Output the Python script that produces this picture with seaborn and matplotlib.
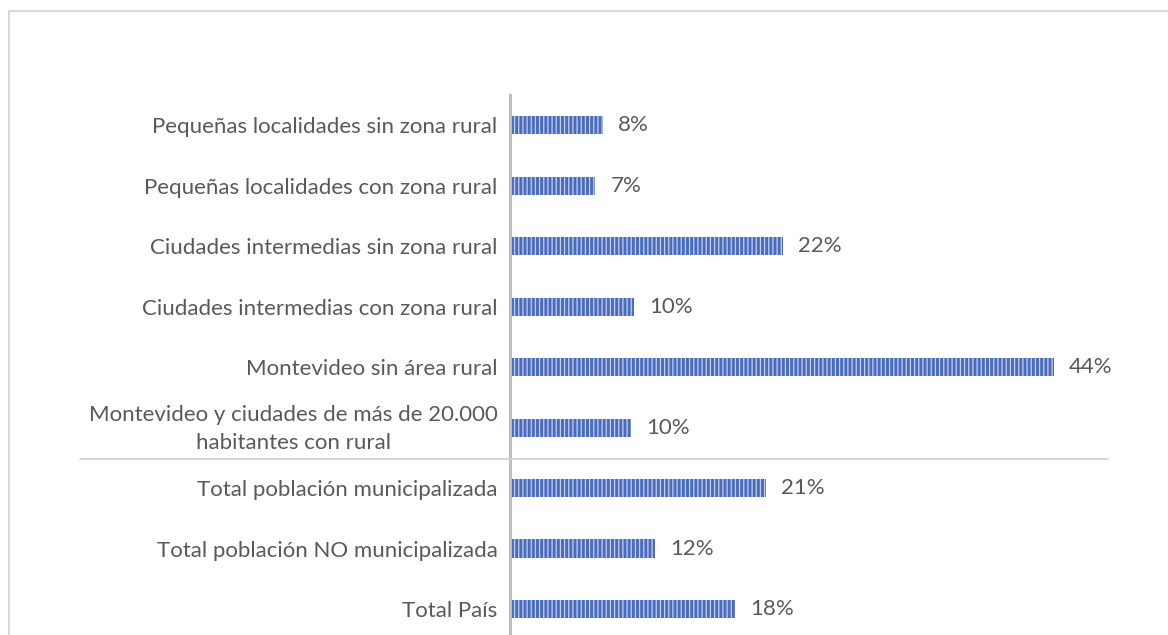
import pandas as pd
import seaborn as sns
import matplotlib.pyplot as plt
import matplotlib.transforms as mtransforms
from matplotlib.patches import Rectangle
from matplotlib.lines import Line2D

categories = [
    "Pequeñas localidades sin zona rural",
    "Pequeñas localidades con zona rural",
    "Ciudades intermedias sin zona rural",
    "Ciudades intermedias con zona rural",
    "Montevideo sin área rural",
    "Montevideo y ciudades de más de 20.000\nhabitantes con rural",
    "Total población municipalizada",
    "Total población NO municipalizada",
    "Total País",
]
values = [7.5, 6.9, 22.1, 10.0, 44.0, 9.8, 20.7, 11.7, 18.2]
value_labels = ["8%", "7%", "22%", "10%", "44%", "10%", "21%", "12%", "18%"]

df = pd.DataFrame({"categoria": categories, "valor": values})

sns.set_style("white")
plt.rcParams["font.family"] = ["Lato", "DejaVu Sans"]
plt.rcParams["hatch.linewidth"] = 0.9

fig = plt.figure(figsize=(11.68, 6.35), dpi=100)
ax = fig.add_axes([510 / 1168, 0, (1108 - 510) / 1168, (635 - 95) / 635])

sns.barplot(data=df, x="valor", y="categoria", orient="h", color="#4a6cc0",
            width=0.3, saturation=1, ax=ax)

for bar in ax.patches:
    bar.set_hatch("||||")
    bar.set_edgecolor("#c5d0ec")
    bar.set_linewidth(0)

for i, lab in enumerate(value_labels):
    ax.annotate(lab, (values[i], i), xytext=(11, 0), textcoords="offset points",
                va="center", ha="left", fontsize=16, color="#595959")

ax.set_xlim(0, 48.4)
ax.set_ylim(8.43, -0.5)
ax.set_xlabel("")
ax.set_ylabel("")
ax.set_xticks([])
ax.set_yticks(range(len(categories)))
ax.set_yticklabels(categories, multialignment="center", linespacing=1.55)
ax.tick_params(axis="y", length=0, pad=9, labelsize=16, labelcolor="#595959")

# the two-line label sits a little higher in the original
two_line = ax.get_yticklabels()[5]
two_line.set_transform(two_line.get_transform()
                       + mtransforms.ScaledTranslation(0, 5 / 100, fig.dpi_scale_trans))

for side in ["top", "right", "bottom"]:
    ax.spines[side].set_visible(False)
ax.spines["left"].set_color("#bfbfbf")
ax.spines["left"].set_linewidth(2.2)

# separator between groups
fig.add_artist(Line2D([80 / 1168, 1108 / 1168], [1 - 459 / 635, 1 - 459 / 635],
                      color="#d0d0d0", lw=1.2))

# chart border
fig.add_artist(Rectangle((9 / 1168, -0.1), 1.2, 1 - 11 / 635 + 0.1, fill=False,
                         edgecolor="#d9d9d9", lw=1.5))

fig.savefig("out.png", dpi=100)
